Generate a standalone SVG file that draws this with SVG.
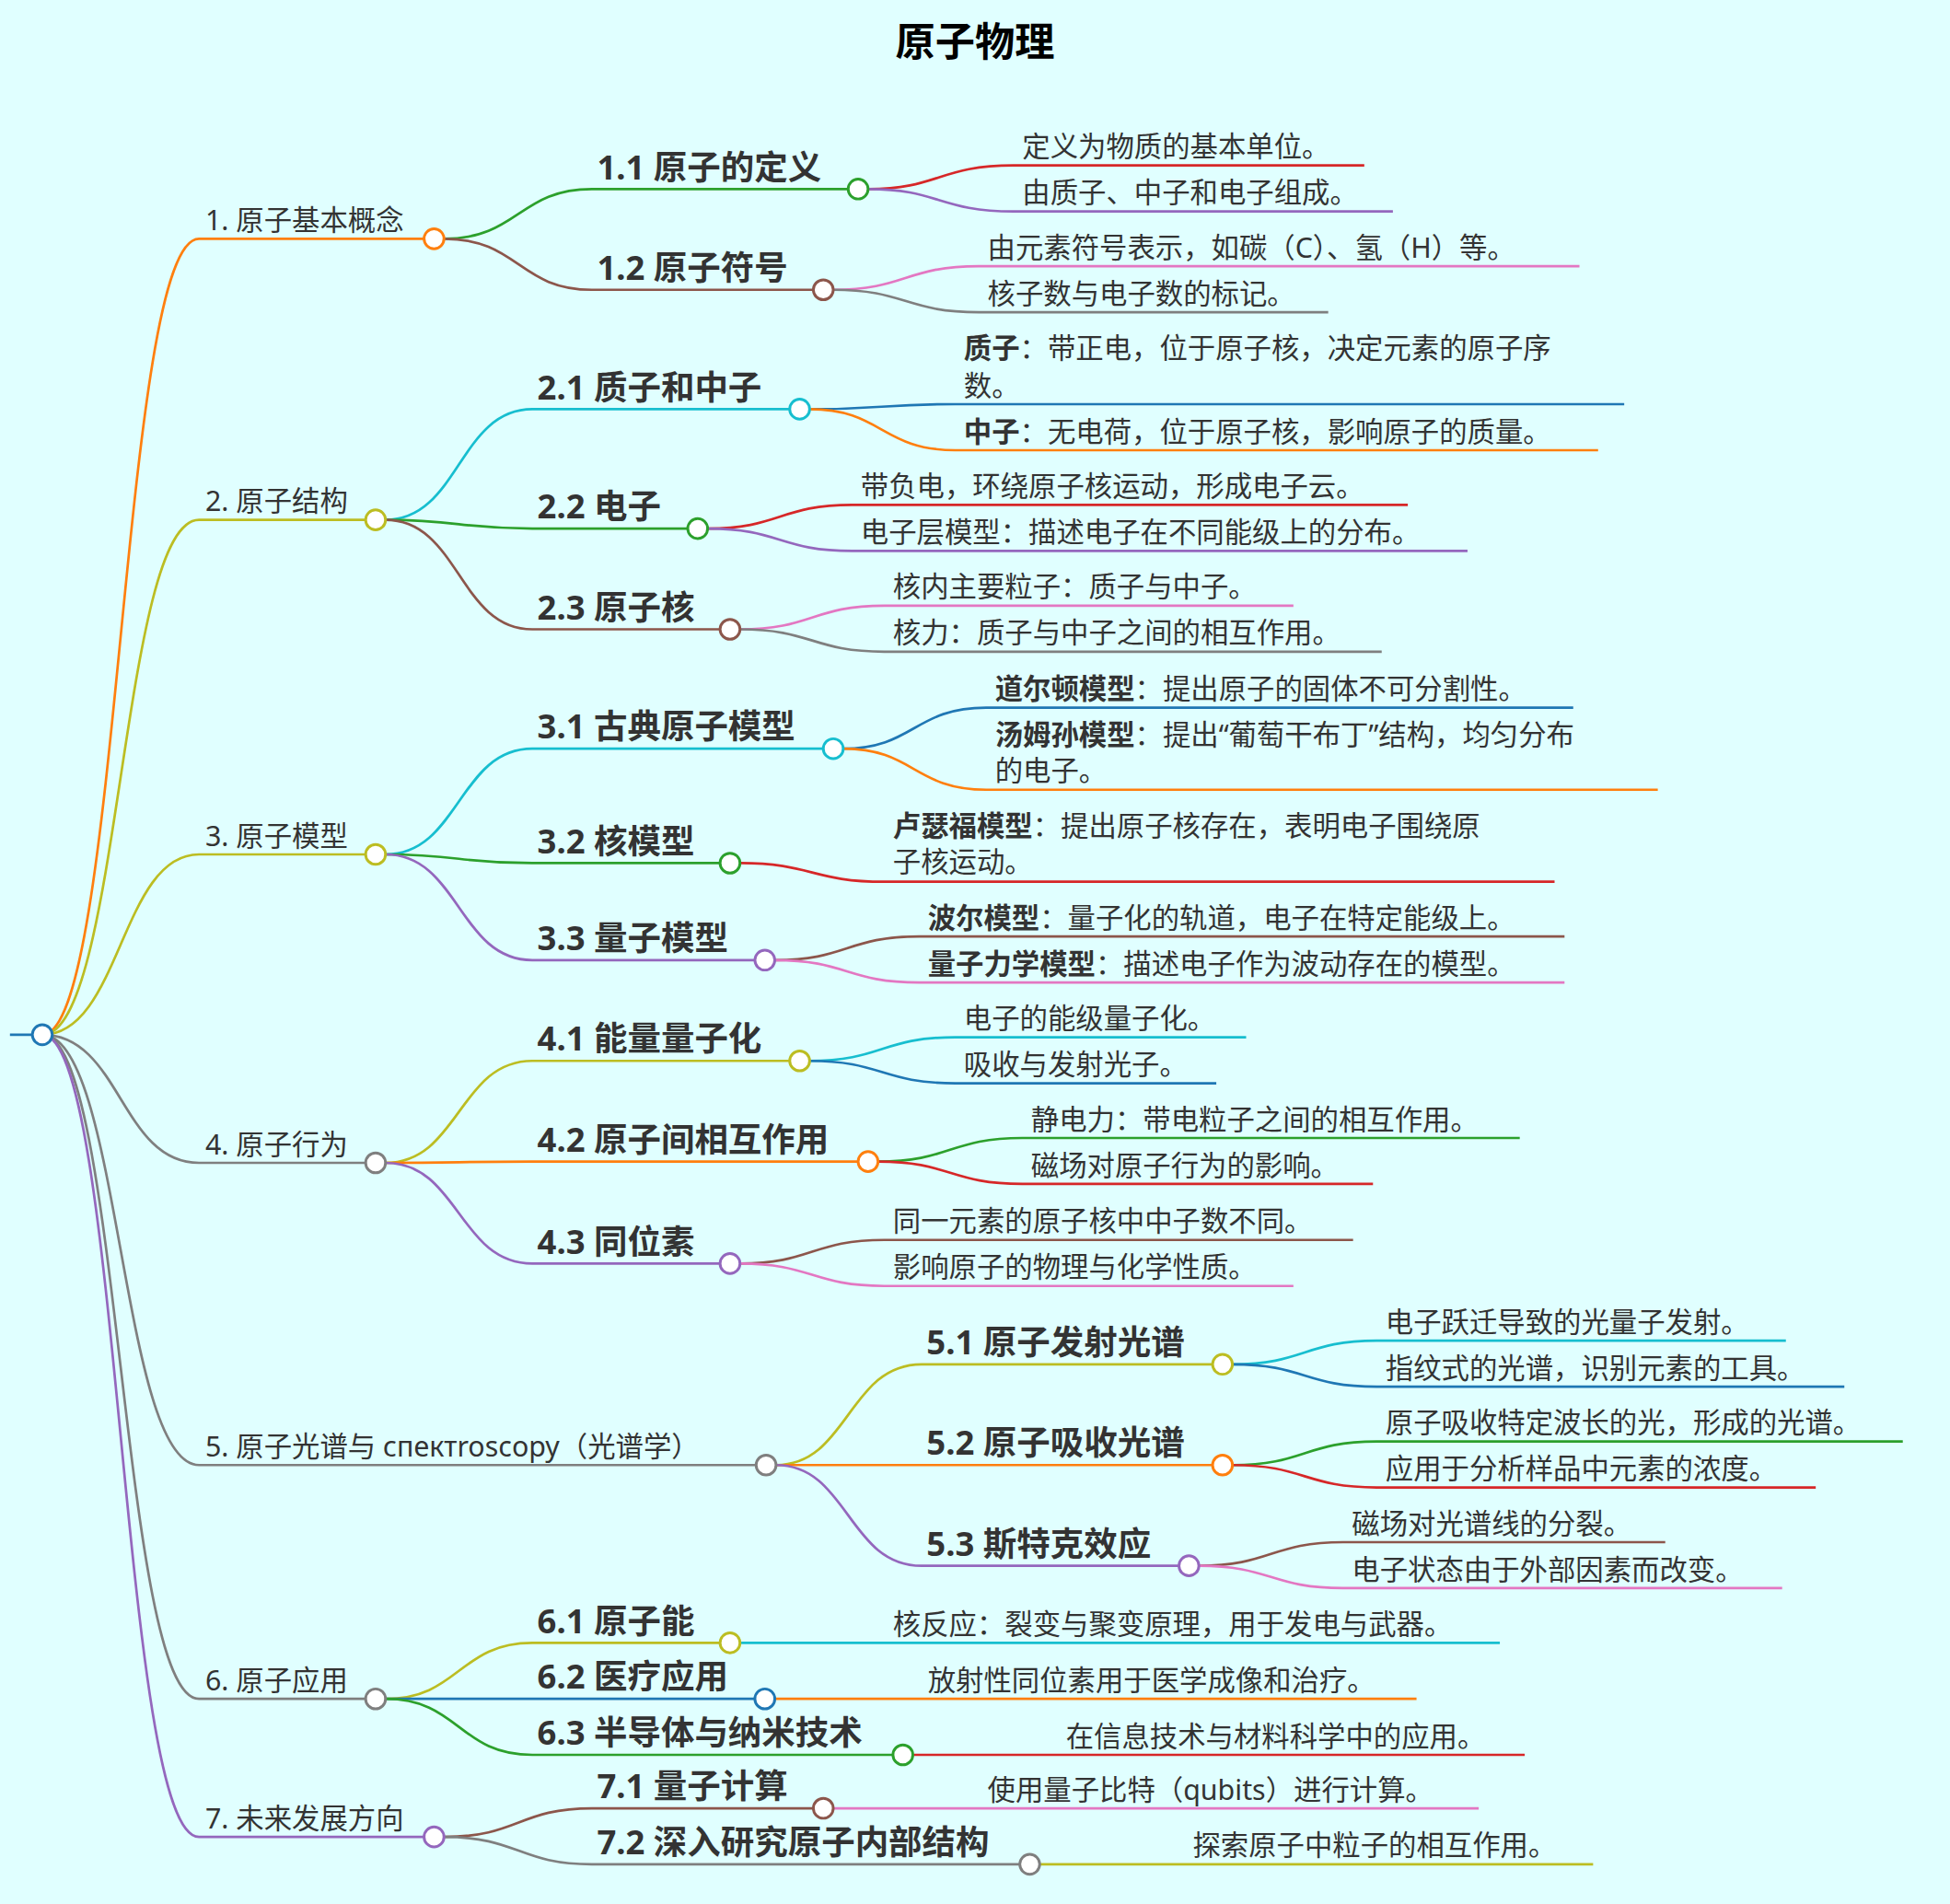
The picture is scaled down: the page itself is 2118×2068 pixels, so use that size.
<svg xmlns="http://www.w3.org/2000/svg" width="2118" height="2068" viewBox="0 0 2118 2068">
<style>
text{font-family:"Noto Sans","Noto Sans CJK SC",sans-serif;fill:#333}
.t1{font-size:22.5px}
.t2{font-size:27px;font-weight:bold}
.lf{font-size:22.5px}
.b{font-weight:bold}
path{fill:none;stroke-width:2}
circle{fill:#fff;stroke-width:2.2}
</style>
<rect width="2118" height="2068" fill="#e0ffff"/>
<g transform="scale(1.3508)">
<text x="784" y="45" text-anchor="middle" style="font-size:32px;font-weight:bold;fill:#000">原子物理</text>
<g id="connectors">
<path d="M8,832H34" stroke="#1f77b4"/>
<path d="M34,832C97,832 97,192 160,192H341" stroke="#ff7f0e"/>
<path d="M34,832C97,832 97,418 160,418H294" stroke="#bcbd22"/>
<path d="M34,832C97,832 97,687 160,687H294" stroke="#bcbd22"/>
<path d="M34,832C97,832 97,935 160,935H294" stroke="#7f7f7f"/>
<path d="M34,832C97,832 97,1178 160,1178H608" stroke="#7f7f7f"/>
<path d="M34,832C97,832 97,1366 160,1366H294" stroke="#7f7f7f"/>
<path d="M34,832C97,832 97,1477 160,1477H341" stroke="#9467bd"/>
<path d="M357,192C417,192 417,152 476,152H682" stroke="#2ca02c"/>
<path d="M357,192C417,192 417,233 476,233H654" stroke="#8c564b"/>
<path d="M310,418C369,418 369,329 428,329H635" stroke="#17becf"/>
<path d="M310,418C369,418 369,425 428,425H553" stroke="#2ca02c"/>
<path d="M310,418C369,418 369,506 428,506H579" stroke="#8c564b"/>
<path d="M310,687C369,687 369,602 428,602H662" stroke="#17becf"/>
<path d="M310,687C369,687 369,694 428,694H579" stroke="#2ca02c"/>
<path d="M310,687C369,687 369,772 428,772H607" stroke="#9467bd"/>
<path d="M310,935C369,935 369,853 428,853H635" stroke="#bcbd22"/>
<path d="M310,935C369,935 369,934 428,934H690" stroke="#ff7f0e"/>
<path d="M310,935C369,935 369,1016 428,1016H579" stroke="#9467bd"/>
<path d="M624,1178C682,1178 682,1097 741,1097H975" stroke="#bcbd22"/>
<path d="M624,1178C682,1178 682,1178 741,1178H975" stroke="#ff7f0e"/>
<path d="M624,1178C682,1178 682,1259 741,1259H948" stroke="#9467bd"/>
<path d="M310,1366C369,1366 369,1321 428,1321H579" stroke="#bcbd22"/>
<path d="M310,1366H607" stroke="#1f77b4"/>
<path d="M310,1366C369,1366 369,1411 428,1411H718" stroke="#2ca02c"/>
<path d="M357,1477C417,1477 417,1454 476,1454H654" stroke="#8c564b"/>
<path d="M357,1477C417,1477 417,1499 476,1499H820" stroke="#7f7f7f"/>
<path d="M698,152C755,152 755,133 815,133H1097" stroke="#d62728"/>
<path d="M698,152C755,152 755,170 815,170H1120" stroke="#9467bd"/>
<path d="M670,233C728,233 728,214 787,214H1270" stroke="#e377c2"/>
<path d="M670,233C728,233 728,251 787,251H1068" stroke="#7f7f7f"/>
<path d="M651,329C709,329 709,325 768,325H1306" stroke="#1f77b4"/>
<path d="M651,329C709,329 709,362 768,362H1285" stroke="#ff7f0e"/>
<path d="M569,425C627,425 627,406 685,406H1132" stroke="#d62728"/>
<path d="M569,425C627,425 627,443 685,443H1180" stroke="#9467bd"/>
<path d="M595,506C653,506 653,487 711,487H1040" stroke="#e377c2"/>
<path d="M595,506C653,506 653,524 711,524H1111" stroke="#7f7f7f"/>
<path d="M678,602C735,602 735,569 793,569H1265" stroke="#1f77b4"/>
<path d="M678,602C735,602 735,635 793,635H1333" stroke="#ff7f0e"/>
<path d="M595,694C653,694 653,709 711,709H1250" stroke="#d62728"/>
<path d="M623,772C681,772 681,753 739,753H1258" stroke="#8c564b"/>
<path d="M623,772C681,772 681,790 739,790H1258" stroke="#e377c2"/>
<path d="M651,853C709,853 709,834 768,834H1002" stroke="#17becf"/>
<path d="M651,853C709,853 709,871 768,871H978" stroke="#1f77b4"/>
<path d="M706,934C764,934 764,915 822,915H1222" stroke="#2ca02c"/>
<path d="M706,934C764,934 764,952 822,952H1104" stroke="#d62728"/>
<path d="M595,1016C653,1016 653,997 711,997H1088" stroke="#8c564b"/>
<path d="M595,1016C653,1016 653,1034 711,1034H1040" stroke="#e377c2"/>
<path d="M991,1097C1049,1097 1049,1078 1107,1078H1436" stroke="#17becf"/>
<path d="M991,1097C1049,1097 1049,1115 1107,1115H1483" stroke="#1f77b4"/>
<path d="M991,1178C1049,1178 1049,1159 1107,1159H1530" stroke="#2ca02c"/>
<path d="M991,1178C1049,1178 1049,1196 1107,1196H1460" stroke="#d62728"/>
<path d="M964,1259C1022,1259 1022,1240 1080,1240H1339" stroke="#8c564b"/>
<path d="M964,1259C1022,1259 1022,1277 1080,1277H1433" stroke="#e377c2"/>
<path d="M595,1321H1206" stroke="#17becf"/>
<path d="M623,1366H1139" stroke="#ff7f0e"/>
<path d="M734,1411H1226" stroke="#d62728"/>
<path d="M670,1454H1189" stroke="#e377c2"/>
<path d="M836,1499H1281" stroke="#bcbd22"/>
</g>
<g id="root"><circle cx="34" cy="832" r="8" stroke="#1f77b4"/></g>
<g id="n1"><text class="t1" x="165" y="185">1. 原子基本概念</text><circle cx="349" cy="192" r="8" stroke="#ff7f0e"/></g>
<g id="n2"><text class="t1" x="165" y="411">2. 原子结构</text><circle cx="302" cy="418" r="8" stroke="#bcbd22"/></g>
<g id="n3"><text class="t1" x="165" y="680">3. 原子模型</text><circle cx="302" cy="687" r="8" stroke="#bcbd22"/></g>
<g id="n4"><text class="t1" x="165" y="928">4. 原子行为</text><circle cx="302" cy="935" r="8" stroke="#7f7f7f"/></g>
<g id="n5"><text class="t1" x="165" y="1171">5. 原子光谱与 спектroscopy（光谱学）</text><circle cx="616" cy="1178" r="8" stroke="#7f7f7f"/></g>
<g id="n6"><text class="t1" x="165" y="1359">6. 原子应用</text><circle cx="302" cy="1366" r="8" stroke="#7f7f7f"/></g>
<g id="n7"><text class="t1" x="165" y="1470">7. 未来发展方向</text><circle cx="349" cy="1477" r="8" stroke="#9467bd"/></g>
<g id="n11"><text class="t2" x="480" y="144">1.1 原子的定义</text><circle cx="690" cy="152" r="8" stroke="#2ca02c"/></g>
<g id="n12"><text class="t2" x="480" y="225">1.2 原子符号</text><circle cx="662" cy="233" r="8" stroke="#8c564b"/></g>
<g id="n21"><text class="t2" x="432" y="321">2.1 质子和中子</text><circle cx="643" cy="329" r="8" stroke="#17becf"/></g>
<g id="n22"><text class="t2" x="432" y="417">2.2 电子</text><circle cx="561" cy="425" r="8" stroke="#2ca02c"/></g>
<g id="n23"><text class="t2" x="432" y="498">2.3 原子核</text><circle cx="587" cy="506" r="8" stroke="#8c564b"/></g>
<g id="n31"><text class="t2" x="432" y="594">3.1 古典原子模型</text><circle cx="670" cy="602" r="8" stroke="#17becf"/></g>
<g id="n32"><text class="t2" x="432" y="686">3.2 核模型</text><circle cx="587" cy="694" r="8" stroke="#2ca02c"/></g>
<g id="n33"><text class="t2" x="432" y="764">3.3 量子模型</text><circle cx="615" cy="772" r="8" stroke="#9467bd"/></g>
<g id="n41"><text class="t2" x="432" y="845">4.1 能量量子化</text><circle cx="643" cy="853" r="8" stroke="#bcbd22"/></g>
<g id="n42"><text class="t2" x="432" y="926">4.2 原子间相互作用</text><circle cx="698" cy="934" r="8" stroke="#ff7f0e"/></g>
<g id="n43"><text class="t2" x="432" y="1008">4.3 同位素</text><circle cx="587" cy="1016" r="8" stroke="#9467bd"/></g>
<g id="n51"><text class="t2" x="745" y="1089">5.1 原子发射光谱</text><circle cx="983" cy="1097" r="8" stroke="#bcbd22"/></g>
<g id="n52"><text class="t2" x="745" y="1170">5.2 原子吸收光谱</text><circle cx="983" cy="1178" r="8" stroke="#ff7f0e"/></g>
<g id="n53"><text class="t2" x="745" y="1251">5.3 斯特克效应</text><circle cx="956" cy="1259" r="8" stroke="#9467bd"/></g>
<g id="n61"><text class="t2" x="432" y="1313">6.1 原子能</text><circle cx="587" cy="1321" r="8" stroke="#bcbd22"/></g>
<g id="n62"><text class="t2" x="432" y="1358">6.2 医疗应用</text><circle cx="615" cy="1366" r="8" stroke="#1f77b4"/></g>
<g id="n63"><text class="t2" x="432" y="1403">6.3 半导体与纳米技术</text><circle cx="726" cy="1411" r="8" stroke="#2ca02c"/></g>
<g id="n71"><text class="t2" x="480" y="1446">7.1 量子计算</text><circle cx="662" cy="1454" r="8" stroke="#8c564b"/></g>
<g id="n72"><text class="t2" x="480" y="1491">7.2 深入研究原子内部结构</text><circle cx="828" cy="1499" r="8" stroke="#7f7f7f"/></g>
<g id="leaves" class="lf">
<text class="lf" x="822" y="126">定义为物质的基本单位。</text>
<text class="lf" x="822" y="163">由质子、中子和电子组成。</text>
<text class="lf" x="794" y="207">由元素符号表示，如碳（C）、氢（H）等。</text>
<text class="lf" x="794" y="244">核子数与电子数的标记。</text>
<text class="lf" x="775" y="288"><tspan class="b">质子</tspan>：带正电，位于原子核，决定元素的原子序</text>
<text class="lf" x="775" y="318">数。</text>
<text class="lf" x="775" y="355"><tspan class="b">中子</tspan>：无电荷，位于原子核，影响原子的质量。</text>
<text class="lf" x="692" y="399">带负电，环绕原子核运动，形成电子云。</text>
<text class="lf" x="692" y="436">电子层模型：描述电子在不同能级上的分布。</text>
<text class="lf" x="718" y="480">核内主要粒子：质子与中子。</text>
<text class="lf" x="718" y="517">核力：质子与中子之间的相互作用。</text>
<text class="lf" x="800" y="562"><tspan class="b">道尔顿模型</tspan>：提出原子的固体不可分割性。</text>
<text class="lf" x="800" y="599"><tspan class="b">汤姆孙模型</tspan>：提出“葡萄干布丁”结构，均匀分布</text>
<text class="lf" x="800" y="628">的电子。</text>
<text class="lf" x="718" y="672"><tspan class="b">卢瑟福模型</tspan>：提出原子核存在，表明电子围绕原</text>
<text class="lf" x="718" y="701">子核运动。</text>
<text class="lf" x="746" y="746"><tspan class="b">波尔模型</tspan>：量子化的轨道，电子在特定能级上。</text>
<text class="lf" x="746" y="783"><tspan class="b">量子力学模型</tspan>：描述电子作为波动存在的模型。</text>
<text class="lf" x="775" y="827">电子的能级量子化。</text>
<text class="lf" x="775" y="864">吸收与发射光子。</text>
<text class="lf" x="829" y="908">静电力：带电粒子之间的相互作用。</text>
<text class="lf" x="829" y="945">磁场对原子行为的影响。</text>
<text class="lf" x="718" y="990">同一元素的原子核中中子数不同。</text>
<text class="lf" x="718" y="1027">影响原子的物理与化学性质。</text>
<text class="lf" x="1114" y="1071">电子跃迁导致的光量子发射。</text>
<text class="lf" x="1114" y="1108">指纹式的光谱，识别元素的工具。</text>
<text class="lf" x="1114" y="1152">原子吸收特定波长的光，形成的光谱。</text>
<text class="lf" x="1114" y="1189">应用于分析样品中元素的浓度。</text>
<text class="lf" x="1087" y="1233">磁场对光谱线的分裂。</text>
<text class="lf" x="1087" y="1270">电子状态由于外部因素而改变。</text>
<text class="lf" x="718" y="1314">核反应：裂变与聚变原理，用于发电与武器。</text>
<text class="lf" x="746" y="1359">放射性同位素用于医学成像和治疗。</text>
<text class="lf" x="857" y="1404">在信息技术与材料科学中的应用。</text>
<text class="lf" x="794" y="1447">使用量子比特（qubits）进行计算。</text>
<text class="lf" x="959" y="1492">探索原子中粒子的相互作用。</text>
</g>
</g>
</svg>
